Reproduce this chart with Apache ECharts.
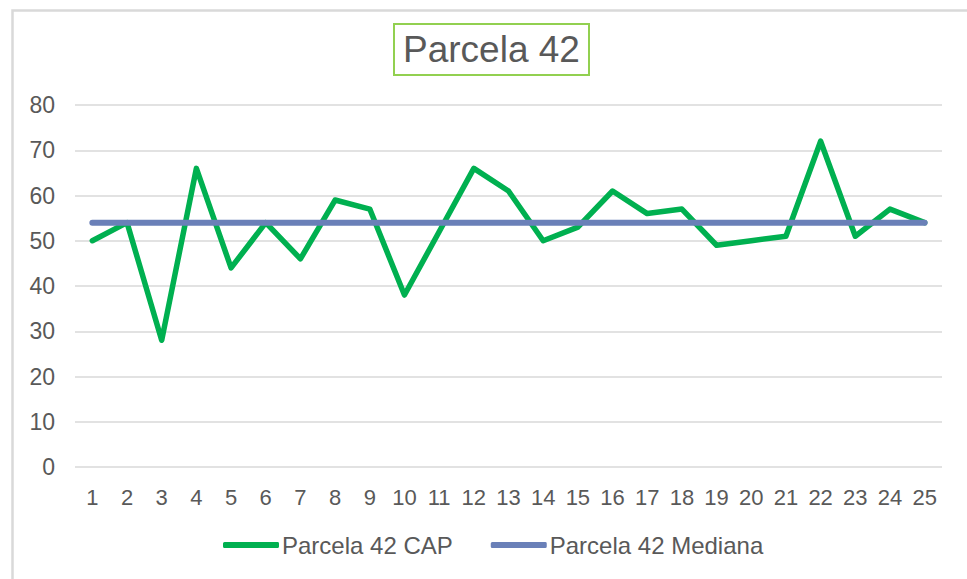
<!DOCTYPE html>
<html>
<head>
<meta charset="utf-8">
<script src="https://cdn.jsdelivr.net/npm/echarts@6/dist/echarts.min.js"></script>
<style>
  html, body { margin: 0; padding: 0; background: #fff; }
  #chart { width: 967px; height: 579px; }
</style>
</head>
<body>
<div id="chart"></div>
<script>
var categories = ['1','2','3','4','5','6','7','8','9','10','11','12','13','14','15','16','17','18','19','20','21','22','23','24','25'];
var capValues = [50, 54, 28, 66, 44, 54, 46, 59, 57, 38, 52, 66, 61, 50, 53, 61, 56, 57, 49, 50, 51, 72, 51, 57, 54];
var medianValues = [54, 54, 54, 54, 54, 54, 54, 54, 54, 54, 54, 54, 54, 54, 54, 54, 54, 54, 54, 54, 54, 54, 54, 54, 54];

var ink = '#595959';
var chart = echarts.init(document.getElementById('chart'), null, { renderer: 'svg' });
chart.setOption({
  animation: false,
  textStyle: { fontFamily: 'Liberation Sans, Arial, sans-serif' },
  graphic: [{
    type: 'rect', left: 10, top: 8, silent: true,
    shape: { width: 975, height: 590 },
    style: { fill: 'none', stroke: '#d9d9d9', lineWidth: 2.5 }
  }],
  title: {
    text: 'Parcela 42', left: 394, top: 24,
    padding: [7, 9, 7, 9],
    borderColor: '#92d050', borderWidth: 2,
    textStyle: { color: ink, fontSize: 37, fontWeight: 'normal' }
  },
  legend: {
    bottom: 17, left: 218, itemGap: 38, itemWidth: 56, itemHeight: 6,
    icon: 'roundRect',
    textStyle: { color: ink, fontSize: 24, padding: [0, 0, 0, -2] },
    data: ['Parcela 42 CAP', 'Parcela 42 Mediana']
  },
  grid: { left: 75, right: 25, top: 105, bottom: 112 },
  xAxis: {
    type: 'category', data: categories, boundaryGap: true,
    axisLine: { show: false }, axisTick: { show: false },
    axisLabel: { color: ink, fontSize: 22, margin: 19, interval: 0 }
  },
  yAxis: {
    type: 'value', min: 0, max: 80, interval: 10,
    axisLine: { show: false }, axisTick: { show: false },
    axisLabel: { color: ink, fontSize: 23, margin: 20 },
    splitLine: { lineStyle: { color: '#d9d9d9', width: 1.5 } }
  },
  series: [
    { name: 'Parcela 42 CAP', type: 'line', data: capValues, showSymbol: false,
      itemStyle: { color: '#00b050' }, lineStyle: { color: '#00b050', width: 5.5, cap: 'round', join: 'round' } },
    { name: 'Parcela 42 Mediana', type: 'line', data: medianValues, showSymbol: false,
      itemStyle: { color: '#6a80b8' }, lineStyle: { color: '#6a80b8', width: 6, cap: 'round' } }
  ]
});
</script>
</body>
</html>
